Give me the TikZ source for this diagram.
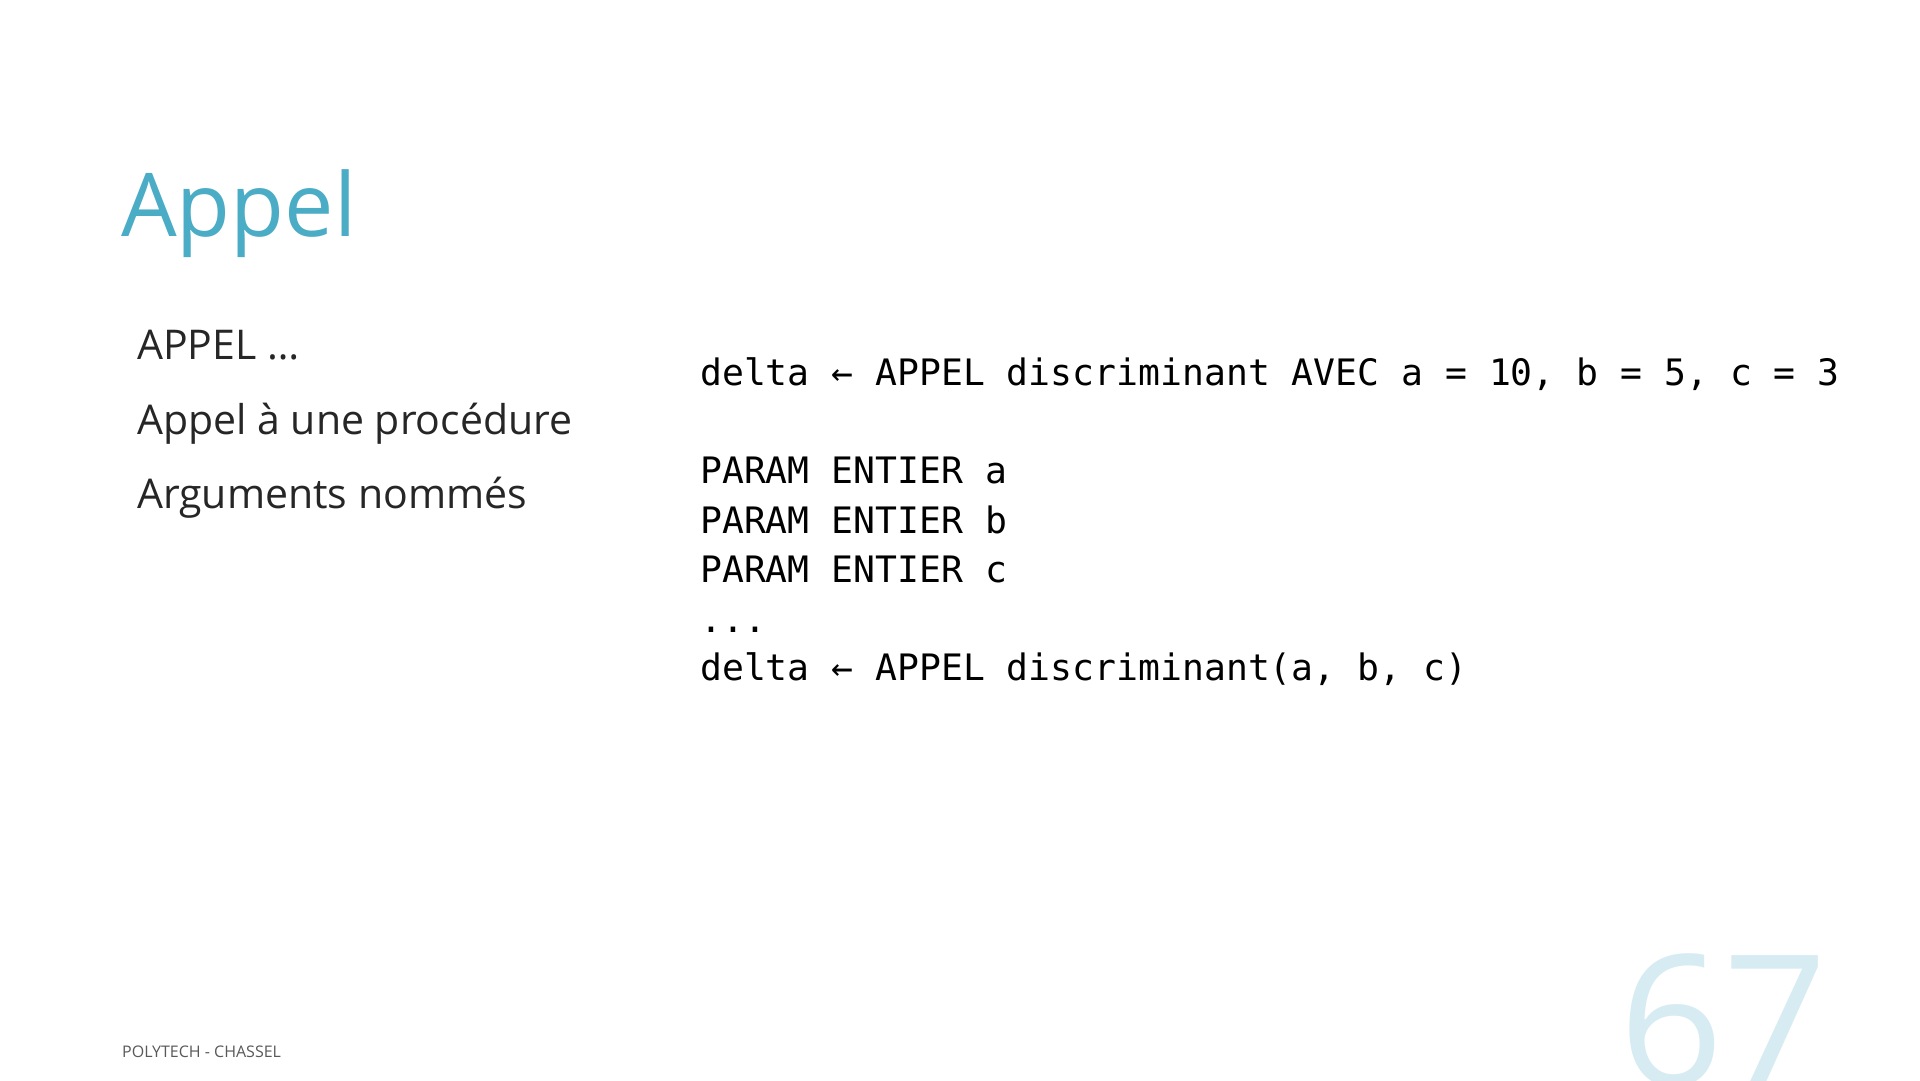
\documentclass[tikz,border=0pt]{standalone}
\usepackage{fontspec}
\setmainfont{Open Sans}
\newfontfamily\codefont{DejaVu Sans Mono}
\usepackage{tikz}

\definecolor{titleteal}{RGB}{75,172,198}
\definecolor{bodygray}{RGB}{38,38,38}
\definecolor{footgray}{RGB}{89,89,89}
\definecolor{numteal}{RGB}{214,236,242}

\begin{document}
\begin{tikzpicture}[x=1pt, y=-1pt,
    every node/.style={inner sep=0pt, anchor=base west},
    titletext/.style={text=titleteal, font=\fontsize{88}{106}\selectfont},
    bullettext/.style={text=bodygray, font=\fontsize{41}{49}\selectfont},
    codeline/.style={text=black, font=\codefont\fontsize{36.4}{44}\selectfont},
    foottext/.style={text=footgray, font=\fontsize{16}{19}\selectfont},
    pagenum/.style={text=numteal, font=\fontsize{182}{218}\selectfont}]

            \clip (0,0) rectangle (1920,1080);
            \fill[white] (0,0) rectangle (1920,1080);

            % Title
            \node[titletext] (title) at (121,236) {Appel};

            % Bullets on the left
            \node[bullettext] (item1) at (137,359) {APPEL …};
            \node[bullettext] (item2) at (137,434) {Appel à une procédure};
            \node[bullettext] (item3) at (137,508) {Arguments nommés};

            % Code on the right
            \node[codeline] (call1) at (700,385) {delta ← APPEL discriminant AVEC a = 10, b = 5, c = 3};
            \node[codeline] (parA) at (700,483) {PARAM ENTIER a};
            \node[codeline] (parB) at (700,533) {PARAM ENTIER b};
            \node[codeline] (parC) at (700,582) {PARAM ENTIER c};
            \node[codeline] (dots) at (700,632) {...};
            \node[codeline] (call2) at (700,680) {delta ← APPEL discriminant(a, b, c)};

            % Footer and page number
            \node[foottext] (footer) at (122,1057) {POLYTECH - CHASSEL};
            \node[pagenum] (page) at (1619,1085) {67};

        \end{tikzpicture}
\end{document}
